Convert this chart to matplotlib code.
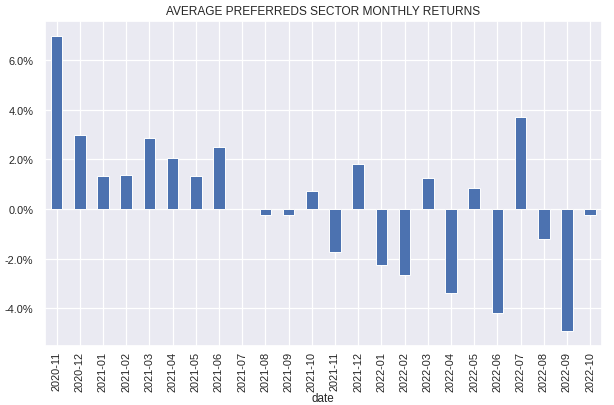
import numpy as np
import pandas as pd
import matplotlib
matplotlib.use("Agg")
import matplotlib.pyplot as plt
import seaborn as sns
from matplotlib.ticker import PercentFormatter

# monthly returns (fractions)
dates = ["2020-11", "2020-12", "2021-01", "2021-02", "2021-03", "2021-04",
         "2021-05", "2021-06", "2021-07", "2021-08", "2021-09", "2021-10",
         "2021-11", "2021-12", "2022-01", "2022-02", "2022-03", "2022-04",
         "2022-05", "2022-06", "2022-07", "2022-08", "2022-09", "2022-10"]
returns = [0.0698, 0.0300, 0.0132, 0.0136, 0.0286, 0.0206,
           0.0132, 0.0252, 0.0000, -0.0022, -0.0022, 0.0071,
           -0.0171, 0.0182, -0.0224, -0.0264, 0.0124, -0.0337,
           0.0084, -0.0417, 0.0370, -0.0122, -0.0492, -0.0022]

sns.set_theme(style="darkgrid")
plt.rcParams["font.family"] = ["Liberation Sans", "DejaVu Sans"]
plt.rcParams["axes.unicode_minus"] = False
plt.rcParams["grid.linewidth"] = 0.9

s = pd.Series(returns, index=pd.Index(dates, name="date"))

fig = plt.figure(figsize=(6.14, 4.06), dpi=100)
ax = fig.add_axes([0.0733, 0.1453, 0.9067, 0.8005])
s.plot(kind="bar", ax=ax, color="#4C72B0", edgecolor="white", linewidth=0.7, width=0.5)

ax.yaxis.set_major_formatter(PercentFormatter(xmax=1.0, decimals=1))
ax.tick_params(axis="both", labelsize=7.9, length=0)
ax.tick_params(axis="x", pad=3.5)
ax.tick_params(axis="y", pad=8.5)
ax.set_title("AVERAGE PREFERREDS SECTOR MONTHLY RETURNS", fontsize=8.6, pad=5)
ax.set_xlabel("date", fontsize=8.4, labelpad=1)

fig.savefig("out.png", dpi=100)
